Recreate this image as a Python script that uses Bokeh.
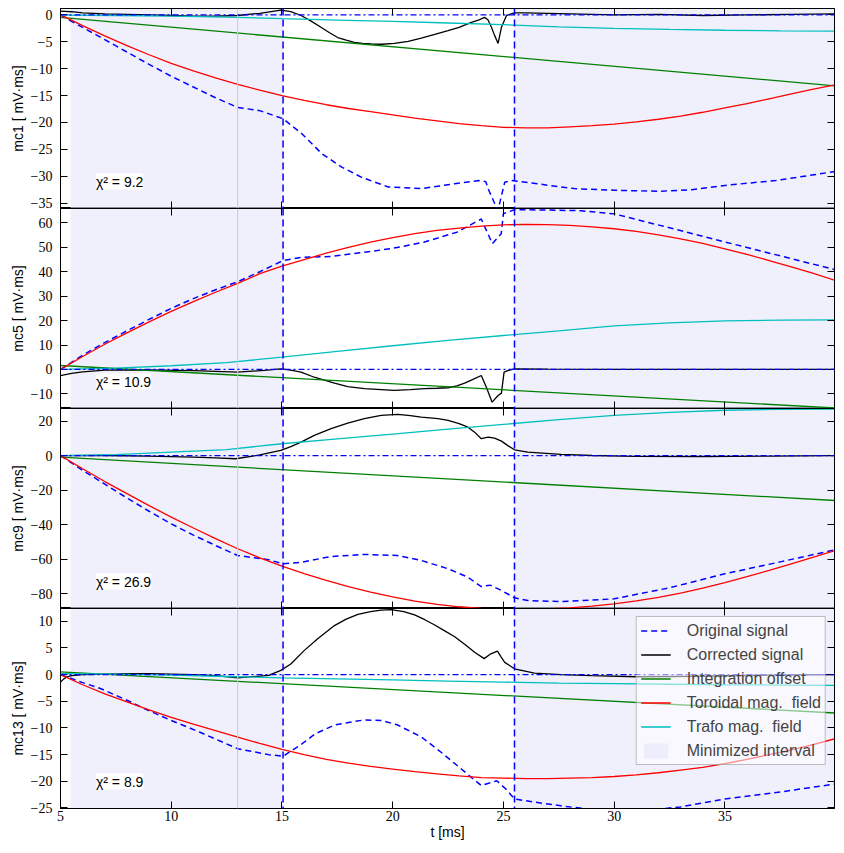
from bokeh.plotting import figure
from bokeh.layouts import column
from bokeh.models import (Range1d, FixedTicker, LinearAxis, Span, Label, Legend,
                          LegendItem, CustomJSTickFormatter)
from bokeh.embed import file_html
from bokeh.resources import INLINE

# ---------------- data ----------------
x_ticks = [5, 10, 15, 20, 25, 30, 35]
x_limits = [5.0, 39.95]

min_int_left = [5.45, 25.5]
min_int_right = [15.05, 40.0]
window_edges = [15.05, 25.5]
grey_marker = [13.0]

t_grid = [5, 6, 7, 8, 9, 10, 11, 12, 13, 14, 15, 16, 17, 18, 19, 20, 21, 22, 23, 24,
          25, 26, 27, 28, 29, 30, 31, 32, 33, 34, 35, 36, 37, 38, 39, 40]
t_cyan = [5, 7.5, 10, 12.5, 15, 17.5, 20, 22.5, 25, 27.5, 30, 32.5, 35, 37.5, 40]
t_green = [5, 40]

# mc1
yticks1 = [-35, -30, -25, -20, -15, -10, -5, 0]
t_o1 = [5, 5.5, 6, 7, 8, 9, 10, 11, 12, 13, 14, 15.05, 15.9, 16.8, 17.7, 18.6, 19.8, 21.3,
        22.8, 23.9, 24.2, 24.35, 24.75, 25.06, 25.35, 25.8, 27.6, 28.2, 30, 32, 33.5, 35, 37.3, 40]
orig1 = [0, -1.2, -2.3, -4.6, -6.9, -9.2, -11.4, -13.4, -15.4, -17.2, -17.8, -19.3, -22.1, -25.8,
         -28.3, -30.2, -32.0, -32.3, -31.4, -30.8, -31.0, -32.7, -36.4, -31.1, -30.8, -31.0, -32.0,
         -32.3, -32.6, -32.8, -32.5, -31.7, -30.8, -29.1]
t_c1 = [5, 5.5, 6, 7, 8, 9, 10, 11, 12, 13, 14, 14.95, 15.4, 15.86, 16.3, 16.76, 17.15, 17.52,
        17.9, 18.27, 18.65, 19.03, 19.5, 20.08, 20.7, 21.29, 21.9, 22.5, 23.0, 23.55, 23.9, 24.15,
        24.3, 24.46, 24.6, 24.76, 24.91, 25.14, 25.5, 26, 27, 28, 30, 32, 34, 36, 38, 40]
corr1 = [0.7, 0.6, 0.4, 0.2, 0.1, 0.0, -0.1, -0.2, -0.2, -0.1, 0.3, 0.9, 0.6, -0.1, -1.1, -2.3,
         -3.3, -4.2, -4.7, -5.1, -5.3, -5.4, -5.45, -5.3, -4.9, -4.3, -3.6, -2.9, -2.3, -1.4, -0.9,
         -0.45, -0.9, -2.3, -3.8, -5.3, -2.3, -0.1, 0.4, 0.4, 0.3, 0.2, 0.0, 0.1, -0.1, 0.0, 0.1, 0.2]
green1 = [-0.45, -13.2]
red1 = [0, -2.0, -3.9, -5.7, -7.4, -9.0, -10.4, -11.7, -12.9, -14.0, -15.0, -15.9, -16.7, -17.4,
        -18.0, -18.6, -19.2, -19.7, -20.2, -20.6, -20.9, -21.0, -21.0, -20.8, -20.6, -20.3, -19.9,
        -19.4, -18.8, -18.1, -17.3, -16.5, -15.6, -14.7, -13.8, -13.0]
cyan1 = [-0.05, -0.1, -0.2, -0.4, -0.7, -0.95, -1.2, -1.5, -1.8, -2.2, -2.5, -2.7, -2.85, -2.95, -3.0]
chi1 = "9.2"

# mc5
yticks2 = [-10, 0, 10, 20, 30, 40, 50, 60]
t_o2 = [5, 6, 7, 8, 9, 10, 11, 12, 13, 14, 15.05, 15.9, 17.2, 18.7, 19.9, 21.4, 22.9, 24.0,
        24.5, 24.9, 25.0, 25.5, 26.7, 28.5, 30, 32.5, 35, 37.5, 40]
orig2 = [0, 5.8, 11.0, 15.8, 20.5, 25.0, 29.0, 32.6, 35.9, 40.0, 44.6, 45.9, 46.2, 48.0, 49.4,
         52.1, 56.2, 61.6, 51.5, 55.6, 63.8, 65.4, 65.3, 65.0, 63.7, 58.0, 52.2, 46.5, 40.8]
t_c2 = [5, 5.5, 6, 7, 9, 11, 13, 14.2, 14.95, 15.4, 15.86, 16.46, 17.37, 17.97, 18.72, 19.48,
        20.08, 20.8, 21.44, 22.0, 22.5, 22.9, 23.25, 23.6, 24.0, 24.23, 24.49, 24.76, 24.91,
        25.03, 25.2, 25.5, 27, 30, 34, 40]
corr2 = [-2.5, -1.6, -1.0, -0.3, -0.2, -0.5, -1.1, -0.4, 0.2, -0.3, -1.1, -3.2, -5.6, -7.0, -7.9,
         -8.3, -8.6, -8.3, -7.9, -7.7, -7.5, -6.7, -5.6, -4.2, -2.5, -7.3, -13.4, -10.7, -9.7,
         -1.1, -0.5, 0.2, 0.1, 0.0, 0.0, 0.0]
green2 = [1.6, -15.8]
red2 = [0, 5.3, 10.3, 15.0, 19.5, 23.8, 27.8, 31.6, 35.2, 39.2, 42.3, 45.0, 47.6, 50.0, 52.1,
        54.0, 55.6, 56.9, 57.9, 58.7, 59.2, 59.4, 59.3, 59.0, 58.4, 57.6, 56.5, 55.1, 53.5, 51.6,
        49.4, 47.1, 44.6, 42.0, 39.3, 36.4]
cyan2 = [0, 0.5, 1.5, 2.8, 5.0, 7.4, 9.7, 11.9, 13.9, 15.8, 17.8, 19.1, 19.9, 20.2, 20.3]
chi2 = "10.9"

# mc9
yticks3 = [-80, -60, -40, -20, 0, 20]
t_o3 = [5, 6, 7, 8, 9, 10, 11, 12, 13, 14.4, 15.05, 15.9, 17.2, 18.7, 20.2, 21.3, 22.5, 23.4,
        24.0, 24.4, 24.9, 25.5, 26.1, 27.6, 30, 32.5, 35, 37.5, 40]
orig3 = [0, -8.5, -16.5, -24.5, -32.2, -39.5, -46.0, -52.0, -57.8, -60.3, -62.6, -61.7, -58.4,
         -57.2, -57.8, -60.7, -65.5, -70.4, -75.8, -75.0, -78.0, -82.3, -83.9, -84.5, -82.9,
         -76.5, -68.4, -61.5, -54.5]
t_c3 = [5, 7, 9, 11, 12, 12.9, 14.0, 14.95, 15.4, 15.86, 16.46, 17.22, 17.97, 18.72, 19.48,
        20.23, 20.8, 21.29, 22.05, 22.5, 23.0, 23.4, 23.7, 24.0, 24.31, 24.6, 24.91, 25.2, 25.5,
        26.1, 27.6, 29, 31, 34, 37, 40]
corr3 = [0, 0.1, -0.3, -0.9, -1.3, -1.8, 0.4, 3.0, 5.2, 7.8, 11.7, 15.6, 18.8, 21.4, 23.3, 23.9,
         23.2, 22.3, 21.4, 20.4, 18.6, 16.5, 13.6, 9.8, 10.7, 10.2, 8.4, 5.8, 3.4, 2.0, 0.7, 0.1,
         -0.4, -0.5, -0.3, 0.0]
green3 = [-0.9, -26.0]
red3 = [0, -7.6, -15.0, -22.0, -28.9, -35.6, -41.9, -48.0, -53.9, -59.2, -64.0, -68.3, -72.2,
        -75.8, -79.0, -81.8, -84.2, -86.1, -87.5, -88.4, -88.8, -88.9, -88.7, -88.1, -87.1,
        -85.8, -84.1, -82.0, -79.6, -76.7, -73.5, -70.1, -66.4, -62.6, -58.8, -54.9]
cyan3 = [0, 0.6, 2.0, 3.5, 6.9, 9.7, 12.5, 15.3, 18.1, 20.9, 23.3, 25.1, 26.3, 26.8, 27.0]
chi3 = "26.9"

# mc13
yticks4 = [-25, -20, -15, -10, -5, 0, 5, 10]
t_o4 = [5, 6, 6.8, 8, 8.8, 10, 11.3, 13, 14.4, 15.05, 15.9, 16.5, 17.4, 18.7, 19.5, 20.2, 21.3,
        22.2, 23.1, 24.0, 24.7, 25.1, 25.5, 26.4, 27.6, 29, 31.3, 33, 35, 37.5, 40]
orig4 = [0, -1.5, -2.6, -4.8, -6.4, -8.6, -10.8, -13.9, -15.0, -15.3, -13.0, -11.1, -9.4, -8.5,
         -8.6, -9.4, -11.7, -14.6, -17.7, -20.8, -19.9, -21.4, -23.3, -23.9, -24.6, -25.3, -25.5,
         -24.8, -23.3, -22.0, -20.5]
t_c4 = [5, 5.15, 5.3, 5.5, 6, 7, 8, 9, 10, 11, 12, 13, 14.4, 14.95, 15.4, 16.0, 16.6, 17.37,
        17.9, 18.43, 19.0, 19.48, 19.93, 20.5, 20.99, 21.45, 21.9, 22.35, 22.8, 23.25, 23.7,
        24.13, 24.43, 24.73, 24.9, 25.06, 25.5, 26.4, 27.6, 29, 31, 34, 37, 40]
corr4 = [-1.4, -0.8, -0.4, -0.2, 0.0, 0.1, 0.2, 0.2, 0.1, 0.0, -0.2, -0.6, -0.15, 0.8, 2.0, 4.5,
         6.7, 9.2, 10.4, 11.3, 11.8, 12.1, 12.2, 11.8, 11.2, 10.3, 9.3, 8.2, 7.1, 5.7, 4.2, 3.0,
         3.9, 4.4, 3.3, 2.3, 1.1, 0.3, 0.0, -0.2, -0.4, -0.3, -0.1, 0.0]
green4 = [0.5, -7.2]
red4 = [0, -1.9, -3.6, -5.1, -6.6, -8.0, -9.3, -10.5, -11.7, -12.9, -14.0, -15.0, -15.9, -16.6,
        -17.2, -17.7, -18.2, -18.6, -19.0, -19.3, -19.4, -19.5, -19.5, -19.4, -19.3, -19.1,
        -18.8, -18.4, -17.9, -17.4, -16.7, -15.9, -15.0, -14.1, -13.1, -12.0]
cyan4 = [0.2, 0.1, -0.1, -0.35, -0.6, -0.8, -1.0, -1.2, -1.4, -1.6, -1.7, -1.8, -1.9, -1.95, -2.0]
chi4 = "8.9"

panels = [
    dict(label="mc1 [ mV\u00b7ms]", yr=(-36.0, 1.2), yticks=yticks1, to=t_o1, orig=orig1,
         tc=t_c1, corr=corr1, green=green1, red=red1, cyan=cyan1, chi=chi1),
    dict(label="mc5 [ mV\u00b7ms]", yr=(-16.0, 65.9), yticks=yticks2, to=t_o2, orig=orig2,
         tc=t_c2, corr=corr2, green=green2, red=red2, cyan=cyan2, chi=chi2),
    dict(label="mc9 [ mV\u00b7ms]", yr=(-88.5, 27.3), yticks=yticks3, to=t_o3, orig=orig3,
         tc=t_c3, corr=corr3, green=green3, red=red3, cyan=cyan3, chi=chi3),
    dict(label="mc13 [ mV\u00b7ms]", yr=(-25.1, 12.4), yticks=yticks4, to=t_o4, orig=orig4,
         tc=t_c4, corr=corr4, green=green4, red=red4, cyan=cyan4, chi=chi4),
]

# ---------------- styling ----------------
W = 838
FRAME_H = 200
TICK_FONT = "Liberation Serif"
SANS = "Liberation Sans"
minus_fmt = "return (tick < 0 ? '\\u2212' : '') + Math.abs(tick).toString();"

x_range = Range1d(*x_limits)


def axis(ticks, labels=True, axis_label=None, standoff=8, label_standoff=2):
    ax = LinearAxis(ticker=FixedTicker(ticks=ticks),
                    formatter=CustomJSTickFormatter(code=minus_fmt),
                    major_tick_in=7, major_tick_out=0,
                    minor_tick_line_color=None,
                    axis_line_color="black", major_tick_line_color="black",
                    major_label_text_font=TICK_FONT)
    if labels:
        ax.major_label_text_font_size = "14px"
        ax.major_label_text_color = "black"
        ax.major_label_standoff = standoff
    else:
        ax.major_label_text_font_size = "0px"
        ax.major_label_text_color = None
        ax.major_label_standoff = 0
    if axis_label:
        ax.axis_label = axis_label
        ax.axis_label_text_font = SANS
        ax.axis_label_text_font_size = "14px"
        ax.axis_label_text_font_style = "normal"
        ax.axis_label_text_color = "black"
        ax.axis_label_standoff = label_standoff
    return ax


figs = []
n = len(panels)
for i, d in enumerate(panels):
    first = i == 0
    last = i == n - 1
    top_b = 8 if first else 0
    bot_b = 37 if last else 0
    ymin, ymax = d["yr"]
    p = figure(width=W, height=FRAME_H + top_b + bot_b, x_range=x_range,
               y_range=Range1d(ymin, ymax), output_backend="svg", toolbar_location=None,
               x_axis_location=None, y_axis_location=None,
               min_border_left=60, min_border_right=4,
               min_border_top=top_b, min_border_bottom=bot_b)
    p.grid.visible = False
    p.outline_line_color = "black"
    p.outline_line_width = 1
    p.background_fill_color = "white"
    p.border_fill_color = "white"

    p.add_layout(axis(d["yticks"], True, d["label"]), "left")
    p.add_layout(axis(d["yticks"], False), "right")
    p.add_layout(axis(x_ticks, False), "above")
    if last:
        p.add_layout(axis(x_ticks, True, "t [ms]", standoff=2, label_standoff=0), "below")
    else:
        p.add_layout(axis(x_ticks, False), "below")

    shade = p.quad(left=min_int_left, right=min_int_right, bottom=ymin - 1000, top=ymax + 1000,
                   fill_color="#E6E6FA", fill_alpha=0.6, line_color=None)
    for g in grey_marker:
        p.add_layout(Span(location=g, dimension="height", line_color="#c9c9d6", line_width=1))
    p.add_layout(Span(location=0, dimension="width", line_color="blue",
                      line_dash="6 3 2 3", line_width=1.2))

    r_orig = p.line(d["to"], d["orig"], line_color="blue", line_dash="6 4", line_width=1.5)
    r_corr = p.line(d["tc"], d["corr"], line_color="black", line_width=1.3)
    r_green = p.line(t_green, d["green"], line_color="#008000", line_width=1.3)
    r_red = p.line(t_grid, d["red"], line_color="red", line_width=1.3)
    r_cyan = p.line(t_cyan, d["cyan"], line_color="#00bfbf", line_width=1.3)

    for xe in window_edges:
        p.add_layout(Span(location=xe, dimension="height", line_color="blue",
                          line_dash="7 4", line_width=1.5))

    p.add_layout(Label(x=6.6, y=ymin + 27.0 / FRAME_H * (ymax - ymin),
                       text="\u03c7\u00b2 = " + d["chi"], text_font=SANS,
                       text_font_size="14px", text_baseline="middle", text_color="black",
                       background_fill_color="white", background_fill_alpha=1.0))

    if last:
        items = [
            LegendItem(label="Original signal", renderers=[r_orig]),
            LegendItem(label="Corrected signal", renderers=[r_corr]),
            LegendItem(label="Integration offset", renderers=[r_green]),
            LegendItem(label="Toroidal mag.  field", renderers=[r_red]),
            LegendItem(label="Trafo mag.  field", renderers=[r_cyan]),
            LegendItem(label="Minimized interval", renderers=[shade]),
        ]
        leg = Legend(items=items, location="top_right", margin=8, padding=4, spacing=5,
                     label_height=19, glyph_height=19, glyph_width=30, label_standoff=16,
                     label_text_font=SANS, label_text_font_size="16px",
                     border_line_color="#808080", border_line_width=1,
                     background_fill_color="white", background_fill_alpha=0.55)
        p.add_layout(leg)
    figs.append(p)

layout = column(*figs, spacing=0)
open("out.html", "w").write(file_html(layout, INLINE))
